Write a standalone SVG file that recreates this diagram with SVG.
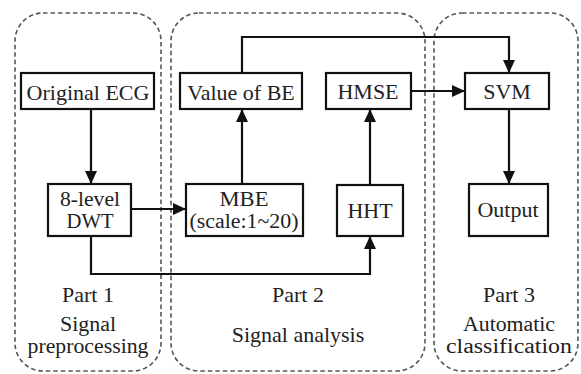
<svg xmlns="http://www.w3.org/2000/svg" width="581" height="374" viewBox="0 0 581 374">
<style>
.grp{fill:none;stroke:#555;stroke-width:1.6;stroke-dasharray:4.5 3}
.box{fill:#fff;stroke:#111;stroke-width:2.2}
.con{fill:none;stroke:#111;stroke-width:2.2}
.t{fill:#222;text-anchor:middle}
</style>
<defs>
<marker id="ah" markerUnits="userSpaceOnUse" markerWidth="13" markerHeight="12" refX="13" refY="6" orient="auto">
<path d="M0,0 L13,6 L0,12 z" fill="#111"/>
</marker>
</defs>
<rect width="581" height="374" fill="#fff"/>
<g id="part1">
<rect class="grp" x="15" y="13" width="146" height="358" rx="28"/>
<text class="t" font-family="Liberation Serif" font-size="22" x="88" y="302">Part 1</text>
<text class="t" font-family="Liberation Serif" font-size="20" x="88" y="331" textLength="56" lengthAdjust="spacingAndGlyphs">Signal</text>
<text class="t" font-family="Liberation Serif" font-size="20" x="88" y="353" textLength="121" lengthAdjust="spacingAndGlyphs">preprocessing</text>
</g>
<g id="part2">
<rect class="grp" x="171" y="13" width="254" height="358" rx="28"/>
<text class="t" font-family="Liberation Serif" font-size="22" x="298" y="302">Part 2</text>
<text class="t" font-family="Liberation Serif" font-size="22" x="298" y="342">Signal analysis</text>
</g>
<g id="part3">
<rect class="grp" x="434" y="13" width="144" height="358" rx="28"/>
<text class="t" font-family="Liberation Serif" font-size="22" x="509" y="302">Part 3</text>
<text class="t" font-family="Liberation Serif" font-size="20" x="509" y="331" textLength="92" lengthAdjust="spacingAndGlyphs">Automatic</text>
<text class="t" font-family="Liberation Serif" font-size="20" x="509" y="353" textLength="126" lengthAdjust="spacingAndGlyphs">classification</text>
</g>
<g id="connectors">
<line class="con" x1="91" y1="109" x2="91" y2="184" marker-end="url(#ah)"/>
<line class="con" x1="131" y1="209" x2="186" y2="209" marker-end="url(#ah)"/>
<line class="con" x1="242" y1="184" x2="242" y2="109" marker-end="url(#ah)"/>
<path class="con" d="M242,73 V37 H509 V73" marker-end="url(#ah)"/>
<line class="con" x1="411" y1="91" x2="465" y2="91" marker-end="url(#ah)"/>
<line class="con" x1="509" y1="109" x2="509" y2="184" marker-end="url(#ah)"/>
<path class="con" d="M91,236 V274 H370 V236" marker-end="url(#ah)"/>
<line class="con" x1="370" y1="185" x2="370" y2="109" marker-end="url(#ah)"/>
</g>
<g id="original-ecg">
<rect class="box" x="21" y="73" width="133" height="36"/>
<text class="t" font-family="Liberation Serif" font-size="22" x="88" y="100">Original ECG</text>
</g>
<g id="dwt">
<rect class="box" x="48" y="184" width="83" height="52"/>
<text class="t" font-family="Liberation Serif" font-size="20" x="90" y="206" textLength="60" lengthAdjust="spacingAndGlyphs">8-level</text>
<text class="t" font-family="Liberation Serif" font-size="20" x="90" y="228" textLength="47" lengthAdjust="spacingAndGlyphs">DWT</text>
</g>
<g id="value-of-be">
<rect class="box" x="180" y="73" width="122" height="36"/>
<text class="t" font-family="Liberation Serif" font-size="22" x="241" y="100">Value of BE</text>
</g>
<g id="mbe">
<rect class="box" x="186" y="184" width="117" height="52"/>
<text class="t" font-family="Liberation Serif" font-size="20" x="244" y="206" textLength="49" lengthAdjust="spacingAndGlyphs">MBE</text>
<text class="t" font-family="Liberation Serif" font-size="20" x="244" y="228" textLength="109" lengthAdjust="spacingAndGlyphs">(scale:1~20)</text>
</g>
<g id="hmse">
<rect class="box" x="326" y="73" width="85" height="36"/>
<text class="t" font-family="Liberation Serif" font-size="22" x="368" y="99">HMSE</text>
</g>
<g id="hht">
<rect class="box" x="337" y="185" width="66" height="51"/>
<text class="t" font-family="Liberation Serif" font-size="22" x="370" y="218">HHT</text>
</g>
<g id="svm">
<rect class="box" x="465" y="73" width="84" height="36"/>
<text class="t" font-family="Liberation Serif" font-size="22" x="507" y="99">SVM</text>
</g>
<g id="output">
<rect class="box" x="469" y="184" width="79" height="52"/>
<text class="t" font-family="Liberation Serif" font-size="22" x="508" y="217">Output</text>
</g>
</svg>
